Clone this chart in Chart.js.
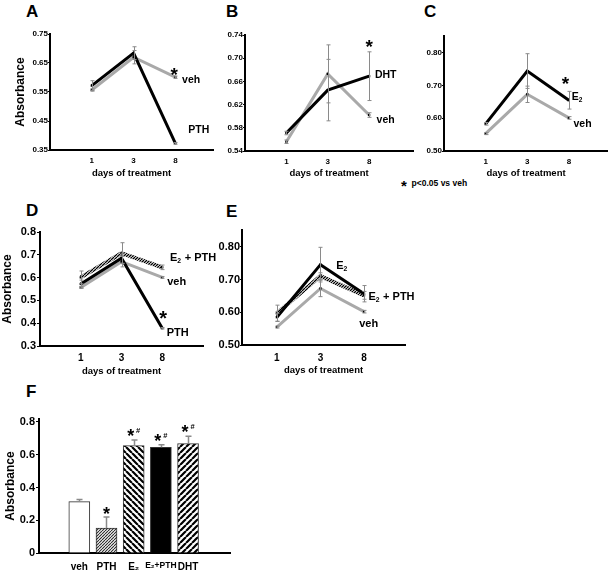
<!DOCTYPE html>
<html><head><meta charset="utf-8">
<script src="https://cdn.jsdelivr.net/npm/chart.js@4.4.1/dist/chart.umd.min.js"></script>
<style>
html,body{margin:0;padding:0;background:#fff;}
body{width:608px;height:570px;overflow:hidden;position:relative;font-family:"Liberation Sans",Arial,"DejaVu Sans",sans-serif;}
canvas{position:absolute;}
.pl{position:absolute;font-weight:bold;font-size:17px;line-height:17px;color:#000;}
.fn{position:absolute;font-weight:bold;font-size:8.5px;line-height:10px;color:#000;white-space:nowrap;}
</style></head><body>
<div class="pl" style="left:26px;top:2.5px">A</div>
<div class="pl" style="left:226px;top:2.5px">B</div>
<div class="pl" style="left:424px;top:2.5px">C</div>
<div class="pl" style="left:26px;top:201.5px">D</div>
<div class="pl" style="left:226px;top:203px">E</div>
<div class="pl" style="left:26px;top:383px">F</div>
<div class="fn" style="left:401px;top:178px"><span style="font-size:15px;vertical-align:-5px">*</span>&nbsp; p&lt;0.05 vs veh</div>
<script>
// ---------- data ----------
const days = ['1', '3', '8'];
const dayPos = [1, 2, 3];

// Panel A: PTH vs veh
const aVeh = [0.557, 0.670, 0.601];
const aVehErr = [0.004, 0.023, 0.004];
const aPTH = [0.572, 0.684, 0.373];
const aPTHErr = [0.017, 0.022, 0.003];
const aTicks = [0.35, 0.45, 0.55, 0.65, 0.75];

// Panel B: DHT vs veh
const bVeh = [0.556, 0.673, 0.602];
const bVehErr = [0.003, 0.050, 0.004];
const bDHT = [0.571, 0.645, 0.669];
const bDHTErr = [0.003, 0.053, 0.042];
const bTicks = [0.54, 0.58, 0.62, 0.66, 0.70, 0.74];

// Panel C: E2 vs veh
const cVeh = [0.553, 0.673, 0.601];
const cVehErr = [0.003, 0.025, 0.004];
const cE2 = [0.583, 0.744, 0.655];
const cE2Err = [0.004, 0.053, 0.027];
const cTicks = [0.50, 0.60, 0.70, 0.80];

// Panel D: E2+PTH, PTH, veh
const dVeh = [0.557, 0.670, 0.601];
const dVehErr = [0.004, 0.023, 0.004];
const dPTH = [0.572, 0.685, 0.378];
const dPTHErr = [0.017, 0.022, 0.003];
const dE2PTH = [0.601, 0.707, 0.645];
const dE2PTHErr = [0.028, 0.046, 0.010];
const dTicks = [0.3, 0.4, 0.5, 0.6, 0.7, 0.8];

// Panel E: E2, E2+PTH, veh
const eVeh = [0.555, 0.673, 0.602];
const eVehErr = [0.003, 0.025, 0.004];
const eE2 = [0.585, 0.746, 0.657];
const eE2Err = [0.012, 0.053, 0.025];
const eE2PTH = [0.597, 0.711, 0.652];
const eE2PTHErr = [0.025, 0.010, 0.012];
const eTicks = [0.50, 0.60, 0.70, 0.80];

// Panel F: bars
const fCats = ['veh', 'PTH', 'E\u2082', 'E\u2082+PTH', 'DHT'];
const fVals = [0.314, 0.152, 0.655, 0.645, 0.668];
const fErr = [0.012, 0.067, 0.035, 0.016, 0.045];
const fSig = ['', '*', '*#', '*#', '*#'];
const fTicks = [0, 0.2, 0.4, 0.6, 0.8];
const fTickLabels = ['0', '0.2', '0.4', '0.6', '0.8'];

// ---------- helpers ----------
const FAM = '"Liberation Sans", Arial, "DejaVu Sans", sans-serif';
const GRAY = '#a9a9a9';
const ERRC = '#8a8a8a';

function hatch(period, lw, dir, color, bg) {
  const c = document.createElement('canvas');
  c.width = period; c.height = period;
  const g = c.getContext('2d');
  g.fillStyle = bg; g.fillRect(0, 0, period, period);
  g.strokeStyle = color; g.lineWidth = lw;
  g.beginPath();
  for (let k = -1; k <= 1; k++) {
    if (dir > 0) { g.moveTo(k * period, period); g.lineTo(k * period + period, 0); }
    else { g.moveTo(k * period, 0); g.lineTo(k * period + period, period); }
  }
  g.stroke();
  return g.createPattern(c, 'repeat');
}

const errPlugin = {
  id: 'errbars',
  afterDatasetsDraw(chart) {
    const ctx = chart.ctx, xs = chart.scales.x, ys = chart.scales.y;
    chart.data.datasets.forEach(ds => {
      if (!ds.err) return;
      ctx.save();
      ctx.strokeStyle = ds.errColor || ERRC;
      ctx.lineWidth = ds.errWidth || 1;
      const c = ds.errCap || 2;
      ds.data.forEach((pt, i) => {
        const e = ds.err[i];
        if (!e) return;
        const x = Math.round(xs.getPixelForValue(pt.x)) + 0.5;
        const yt = ys.getPixelForValue(pt.y + e);
        const yb = ds.errUpOnly ? ys.getPixelForValue(pt.y) : ys.getPixelForValue(pt.y - e);
        ctx.beginPath();
        ctx.moveTo(x, yt); ctx.lineTo(x, yb);
        ctx.moveTo(x - c, yt); ctx.lineTo(x + c, yt);
        if (!ds.errUpOnly) { ctx.moveTo(x - c, yb); ctx.lineTo(x + c, yb); }
        ctx.stroke();
      });
      ctx.restore();
    });
  }
};

// draws text, rendering unicode subscript digits as small lowered digits
function drawRich(ctx, text, x, y, size, align) {
  const runs = [];
  for (const ch of text) {
    const code = ch.charCodeAt(0);
    const sub = code >= 0x2080 && code <= 0x2089;
    const t = sub ? String.fromCharCode(48 + code - 0x2080) : ch;
    if (runs.length && runs[runs.length - 1].sub === sub) runs[runs.length - 1].t += t;
    else runs.push({ t: t, sub: sub });
  }
  let total = 0;
  runs.forEach(r => {
    ctx.font = 'bold ' + (r.sub ? size * 0.62 : size) + 'px ' + FAM;
    r.w = ctx.measureText(r.t).width + (r.sub ? 0.5 : 0);
    total += r.w;
  });
  let cx = align === 'center' ? x - total / 2 : (align === 'right' ? x - total : x);
  ctx.textAlign = 'left';
  runs.forEach(r => {
    ctx.font = 'bold ' + (r.sub ? size * 0.62 : size) + 'px ' + FAM;
    ctx.fillText(r.t, cx, r.sub ? y + size * 0.32 : y);
    cx += r.w;
  });
}

function notesPlugin(notes) {
  return {
    id: 'notes',
    afterDraw(chart) {
      const ctx = chart.ctx, xs = chart.scales.x, ys = chart.scales.y;
      ctx.save();
      ctx.fillStyle = '#000';
      ctx.textBaseline = 'middle';
      notes.forEach(n => {
        const size = n.size || 10.5;
        let x = xs.getPixelForValue(n.x) + (n.dx || 0);
        let y = ys.getPixelForValue(n.y) + (n.dy || 0);
        if (n.star) y += 0.22 * size;
        drawRich(ctx, n.text, x, y, size, n.align || 'left');
      });
      ctx.restore();
    }
  };
}

function pts(arr) { return arr.map((v, i) => ({ x: dayPos[i], y: v })); }

function lineDs(vals, err, kind) {
  const ds = {
    data: pts(vals), err: err, borderWidth: 3, tension: 0,
    pointRadius: 1.6, pointStyle: 'rect', pointBackgroundColor: '#000',
    pointBorderWidth: 0, fill: false
  };
  if (kind === 'gray') ds.borderColor = GRAY;
  else if (kind === 'black') ds.borderColor = '#000';
  else { ds.borderColor = hatch(3, 1.3, 1, '#000', '#fff'); ds.borderWidth = 4; }
  return ds;
}

function makeChart(o) {
  const padT = 14, padR = 24;
  const w = (o.R - o.L) + o.yW + padR;
  const h = (o.B - o.T) + padT + o.xH;
  const cv = document.createElement('canvas');
  cv.width = w; cv.height = h;
  cv.style.left = (o.L - o.yW) + 'px';
  cv.style.top = (o.T - padT) + 'px';
  cv.style.width = w + 'px'; cv.style.height = h + 'px';
  document.body.appendChild(cv);
  const xFontFn = (c) => ({ family: FAM, weight: 'bold',
    size: Array.isArray(o.xFont) ? (o.xFont[c.index] || o.xFont[0]) : o.xFont });
  return new Chart(cv, {
    type: o.type || 'line',
    data: { datasets: o.datasets },
    options: {
      responsive: false, animation: false, devicePixelRatio: 1, events: [],
      layout: { padding: { left: 0, top: padT, right: padR, bottom: 0 } },
      plugins: { legend: { display: false }, tooltip: { enabled: false } },
      scales: {
        x: {
          type: 'linear', min: o.xMin, max: o.xMax,
          afterBuildTicks: s => { s.ticks = o.xTicks.map(v => ({ value: v })); },
          afterFit: s => { s.height = o.xH; },
          ticks: {
            callback: (v, i) => o.xLabels[i],
            font: xFontFn, color: '#000',
            padding: o.xPad, maxRotation: 0, autoSkip: false
          },
          grid: { display: false, drawTicks: false },
          border: { display: true, color: '#000', width: 2 },
          title: {
            display: !!o.xTitle, text: o.xTitle || '', color: '#000',
            font: { family: FAM, size: 9.5, weight: 'bold' }, padding: { top: 0, bottom: 0 }
          }
        },
        y: {
          type: 'linear', min: o.yMin, max: o.yMax,
          afterBuildTicks: s => { s.ticks = o.yTicks.map(v => ({ value: v })); },
          afterFit: s => { s.width = o.yW; },
          ticks: {
            callback: (v, i) => o.yLabels[i],
            font: { family: FAM, size: o.yFont, weight: 'bold' }, color: '#000',
            padding: o.yPad, autoSkip: false
          },
          grid: { display: true, drawOnChartArea: false, drawTicks: true, tickLength: o.tickLen, color: '#000', lineWidth: 1 },
          border: { display: true, color: '#000', width: 2 },
          title: {
            display: !!o.yTitle, text: o.yTitle || '', color: '#000',
            font: { family: FAM, size: 12, weight: 'bold' }, padding: { top: o.yTitlePad || 0, bottom: 0 }
          }
        }
      }
    },
    plugins: [errPlugin, notesPlugin(o.notes || [])]
  });
}

const fmt2 = a => a.map(v => v.toFixed(2));
const fmt1 = a => a.map(v => v.toFixed(1));
const TITLE_X = 'days of treatment';

// Panel A
makeChart({
  L: 50, T: 34, R: 213, B: 150, yW: 50, xH: 29,
  xMin: 0, xMax: 3.9, xTicks: dayPos, xLabels: days, xFont: 8, xPad: 6, xTitle: TITLE_X,
  yMin: 0.35, yMax: 0.75, yTicks: aTicks, yLabels: fmt2(aTicks), yFont: 8, yPad: 0, tickLen: 2,
  yTitle: 'Absorbance', yTitlePad: 13.5,
  datasets: [lineDs(aPTH, aPTHErr, 'black'), lineDs(aVeh, aVehErr, 'gray')],
  notes: [
    { x: 2.97, y: 0.622, text: '*', star: true, size: 19, align: 'center' },
    { x: 3.16, y: 0.591, text: 'veh' },
    { x: 3.31, y: 0.419, text: 'PTH' }
  ]
});

// Panel B
makeChart({
  L: 245, T: 35, R: 413, B: 151, yW: 25, xH: 28,
  xMin: 0, xMax: 4.06, xTicks: dayPos, xLabels: days, xFont: 8, xPad: 6, xTitle: TITLE_X,
  yMin: 0.54, yMax: 0.74, yTicks: bTicks, yLabels: fmt2(bTicks), yFont: 8, yPad: 0, tickLen: 2,
  datasets: [lineDs(bDHT, bDHTErr, 'black'), lineDs(bVeh, bVehErr, 'gray')],
  notes: [
    { x: 3.0, y: 0.726, text: '*', star: true, size: 19, align: 'center' },
    { x: 3.14, y: 0.671, text: 'DHT' },
    { x: 3.18, y: 0.593, text: 'veh' }
  ]
});

// Panel C
makeChart({
  L: 444, T: 36, R: 608, B: 151, yW: 25, xH: 28,
  xMin: 0, xMax: 3.94, xTicks: dayPos, xLabels: days, xFont: 8, xPad: 6, xTitle: TITLE_X,
  yMin: 0.5, yMax: 0.851, yTicks: cTicks, yLabels: fmt2(cTicks), yFont: 8, yPad: 0, tickLen: 2,
  datasets: [lineDs(cE2, cE2Err, 'black'), lineDs(cVeh, cVehErr, 'gray')],
  notes: [
    { x: 2.92, y: 0.714, text: '*', star: true, size: 19, align: 'center' },
    { x: 3.07, y: 0.665, text: 'E\u2082' },
    { x: 3.11, y: 0.582, text: 'veh' }
  ]
});

// Panel D
makeChart({
  L: 40, T: 232, R: 203, B: 346, yW: 40, xH: 31,
  xMin: 0, xMax: 4, xTicks: dayPos, xLabels: days, xFont: 10, xPad: 6, xTitle: TITLE_X,
  yMin: 0.3, yMax: 0.8, yTicks: dTicks, yLabels: fmt1(dTicks), yFont: 11, yPad: 1, tickLen: 3,
  yTitle: 'Absorbance', yTitlePad: 0,
  datasets: [lineDs(dE2PTH, dE2PTHErr, 'hatch'), lineDs(dPTH, dPTHErr, 'black'), lineDs(dVeh, dVehErr, 'gray')],
  notes: [
    { x: 3.19, y: 0.686, text: 'E\u2082 + PTH', size: 11 },
    { x: 3.12, y: 0.582, text: 'veh', size: 11 },
    { x: 3.02, y: 0.436, text: '*', star: true, size: 20, align: 'center' },
    { x: 3.11, y: 0.356, text: 'PTH', size: 11 }
  ]
});

// Panel E
makeChart({
  L: 242, T: 230, R: 405, B: 345, yW: 30, xH: 31,
  xMin: 0.2, xMax: 3.94, xTicks: dayPos, xLabels: days, xFont: 10, xPad: 7, xTitle: TITLE_X,
  yMin: 0.5, yMax: 0.852, yTicks: eTicks, yLabels: fmt2(eTicks), yFont: 11, yPad: 0, tickLen: 2,
  datasets: [lineDs(eE2, eE2Err, 'black'), lineDs(eE2PTH, eE2PTHErr, 'hatch'), lineDs(eVeh, eVehErr, 'gray')],
  notes: [
    { x: 2.36, y: 0.742, text: 'E\u2082', size: 11 },
    { x: 3.10, y: 0.647, text: 'E\u2082 + PTH', size: 11 },
    { x: 2.89, y: 0.565, text: 'veh', size: 11 }
  ]
});

// Panel F
const fFills = [
  '#ffffff',
  hatch(3, 1.1, 1, '#2a2a2a', '#ffffff'),
  hatch(6, 2.2, -1, '#000000', '#ffffff'),
  '#000000',
  hatch(6, 2.2, 1, '#000000', '#ffffff')
];
const fPos = fCats.map((c, i) => i + 1);
const fNotes = [];
fSig.forEach((s, i) => {
  if (!s) return;
  const top = fVals[i] + fErr[i];
  if (s === '*') {
    fNotes.push({ x: fPos[i], y: top, dy: -6, text: '*', star: true, size: 18, align: 'center' });
  } else {
    fNotes.push({ x: fPos[i], y: top, dy: -7, dx: -3, text: '*', star: true, size: 18, align: 'center' });
    fNotes.push({ x: fPos[i], y: top, dy: -9, dx: 4.5, text: '#', size: 7.5, align: 'center' });
  }
});
makeChart({
  type: 'bar',
  L: 39, T: 419, R: 230, B: 553, yW: 39, xH: 17,
  xMin: 0.22, xMax: 5.84, xTicks: fPos, xLabels: fCats, xFont: [10, 10, 10, 8.5, 10], xPad: 8,
  yMin: 0, yMax: 0.818, yTicks: fTicks, yLabels: fTickLabels, yFont: 11, yPad: 1, tickLen: 3,
  yTitle: 'Absorbance', yTitlePad: 3,
  datasets: [{
    data: fVals.map((v, i) => ({ x: fPos[i], y: v })),
    err: fErr, errUpOnly: true, errColor: '#8a8a8a', errWidth: 1.5, errCap: 3,
    backgroundColor: fFills, borderColor: '#333', borderWidth: 1, barThickness: 21
  }],
  notes: fNotes
});
</script>
</body></html>
